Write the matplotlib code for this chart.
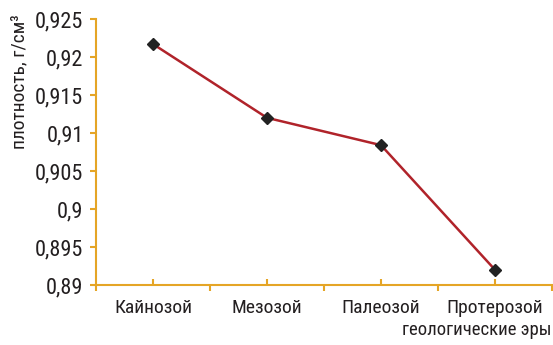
import matplotlib
matplotlib.use("Agg")
import matplotlib.pyplot as plt
from matplotlib.ticker import FixedLocator, FuncFormatter

plt.rcParams['font.family'] = ['Roboto Condensed', 'DejaVu Sans']

eras = ['Кайнозой', 'Мезозой', 'Палеозой', 'Протерозой']
density = [0.9217, 0.912, 0.9084, 0.892]
yticks = [0.89, 0.895, 0.9, 0.905, 0.91, 0.915, 0.92, 0.925]

axis_color = '#E5A526'
line_color = '#B0232A'
text_color = '#231F20'

fig = plt.figure(figsize=(5.53, 3.45), dpi=100)
ax = fig.add_axes([96 / 553, 1 - 285 / 345, 456 / 553, 266 / 345])

x = list(range(len(eras)))
ax.plot(x, density, color=line_color, lw=1.8, marker='D', ms=6,
        mfc='#222222', mec='#222222', zorder=3, clip_on=False)

ax.set_xlim(-0.5, len(eras) - 0.5)
ax.set_ylim(0.89, 0.925)

# category boundaries: outward ticks without labels; centres: inward ticks with labels
ax.xaxis.set_major_locator(FixedLocator([i - 0.5 for i in range(len(eras) + 1)]))
ax.xaxis.set_major_formatter(FuncFormatter(lambda v, p: ''))
ax.xaxis.set_minor_locator(FixedLocator(x))
ax.xaxis.set_minor_formatter(FuncFormatter(lambda v, p: eras[int(round(v))]))
ax.tick_params(axis='x', which='major', direction='out', length=4, width=1.5, color=axis_color)
ax.tick_params(axis='x', which='minor', direction='in', length=4, width=1.5, color=axis_color,
               labelsize=14, pad=10, labelcolor=text_color)

ax.set_yticks(yticks)
ax.set_yticklabels([('%g' % v).replace('.', ',') for v in yticks])
ax.tick_params(axis='y', direction='out', length=4, width=1.5, color=axis_color,
               labelsize=16, pad=5, labelcolor=text_color)

for s in ['top', 'right']:
    ax.spines[s].set_visible(False)
for s in ['left', 'bottom']:
    ax.spines[s].set_color(axis_color)
    ax.spines[s].set_linewidth(1.5)

fig.text(19 / 553, 1 - 82 / 345, 'плотность, г/см³', rotation=90, ha='center', va='center',
         fontsize=14, color=text_color)
fig.text(552 / 553, 1 - 330 / 345, 'геологические эры', ha='right', va='center',
         fontsize=13.5, color=text_color)

fig.savefig('out.png', dpi=100)
